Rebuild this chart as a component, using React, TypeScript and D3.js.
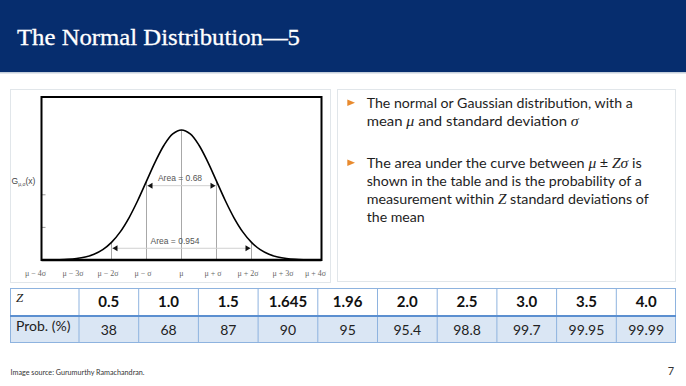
import React from "react";
import * as d3 from "d3";

// ---- Data ----
const curveX = [-4, -3.75, -3.5, -3.25, -3, -2.75, -2.5, -2.25, -2, -1.75, -1.5, -1.25, -1, -0.75, -0.5, -0.25, 0,
  0.25, 0.5, 0.75, 1, 1.25, 1.5, 1.75, 2, 2.25, 2.5, 2.75, 3, 3.25, 3.5, 3.75, 4];
const curveY = [0.0001, 0.0004, 0.0009, 0.002, 0.0044, 0.0091, 0.0175, 0.0317, 0.054, 0.0863, 0.1295, 0.1826, 0.242, 0.3011, 0.3521, 0.3867, 0.3989,
  0.3867, 0.3521, 0.3011, 0.242, 0.1826, 0.1295, 0.0863, 0.054, 0.0317, 0.0175, 0.0091, 0.0044, 0.002, 0.0009, 0.0004, 0.0001];
const sigmaTicks = [-4, -3, -2, -1, 0, 1, 2, 3, 4];
const sigmaLabels = ["μ − 4σ", "μ − 3σ", "μ − 2σ", "μ − σ", "μ", "μ + σ", "μ + 2σ", "μ + 3σ", "μ + 4σ"];
const yTicks = [0.1, 0.2];
const markerLines = [-2, -1, 0, 1, 2];
const areaSpans = [1, 2];
const areaLabels = ["Area = 0.68", "Area = 0.954"];
const areaLevels = [0.228, 0.036];
const zValues = ["0.5", "1.0", "1.5", "1.645", "1.96", "2.0", "2.5", "3.0", "3.5", "4.0"];
const probValues = ["38", "68", "87", "90", "95", "95.4", "98.8", "99.7", "99.95", "99.99"];

type Seg = [string, boolean];
const bullets: Seg[][][] = [
  [
    [["The normal or Gaussian distribution, with a", false]],
    [["mean ", false], ["μ", true], [" and standard deviation ", false], ["σ", true]],
  ],
  [
    [["The area under the curve between ", false], ["μ", true], [" ± ", false], ["Zσ", true], [" is", false]],
    [["shown in the table and is the probability of a", false]],
    [["measurement within ", false], ["Z", true], [" standard deviations of", false]],
    [["the mean", false]],
  ],
];
const bulletWidths = [[266, 212], [275, 275, 282, 58]];

export default function App() {
  const W = 686, H = 386;
  const x = d3.scaleLinear().domain([-4, 4]).range([41.5, 321.5]);
  const y = d3.scaleLinear().domain([0, 0.5]).range([260, 97]);
  const pdfAt = (k: number) => curveY[curveX.indexOf(k)];
  const line = d3.line<number>()
    .x((_, i) => x(curveX[i]))
    .y((d) => y(d))
    .curve(d3.curveCatmullRom);

  const col = d3.scaleBand<string>().domain(zValues).range([79, 676]);
  const tableLeft = 10, tableTop = 288, rowDiv = 316, tableBottom = 343;

  const arrow = (tipX: number, yy: number, dir: number) => {
    const w = 5, h = 3;
    return `M${tipX},${yy} L${tipX - dir * w},${yy - h} L${tipX - dir * w},${yy + h} Z`;
  };

  const bulletTops = [[107.7, 126], [167.7, 186, 204.3, 222.3]];

  return (
    <svg width={W} height={H} style={{ position: "absolute", left: 0, top: 0, background: "#fff" }}>
      {/* header */}
      <rect x={0} y={0} width={W} height={72} fill="#062d6e" />
      <rect x={0} y={72} width={W} height={1.5} fill="#c5cfdb" />
      <text x={17} y={45} fill="#fff" stroke="#fff" strokeWidth={0.3} fontFamily="Liberation Serif" fontSize={24}
        textLength={283} lengthAdjust="spacingAndGlyphs">
        The Normal Distribution—5
      </text>

      {/* boxes */}
      <rect x={10.5} y={89.5} width={320} height={193} fill="#fff" stroke="#e1e6ea" />
      <rect x={337.5} y={89.5} width={338} height={192} fill="#fff" stroke="#e1e6ea" />

      {/* chart */}
      {markerLines.map((k) => (
        <line key={"v" + k} x1={x(k)} x2={x(k)} y1={y(0)} y2={y(pdfAt(k))} stroke="#a8a8a8" strokeWidth={1} />
      ))}
      {areaSpans.map((k, i) => (
        <g key={"a" + k}>
          <line x1={x(-k)} x2={x(k)} y1={y(areaLevels[i])} y2={y(areaLevels[i])} stroke="#d0d0d0" strokeWidth={1} />
          <path d={arrow(x(-k) + 1, y(areaLevels[i]), -1)} fill="#111" />
          <path d={arrow(x(k) - 1, y(areaLevels[i]), 1)} fill="#111" />
          <text x={x(0) - (i === 0 ? 1.5 : 6.5)} y={y(areaLevels[i]) - 4.3} textAnchor="middle"
            fontFamily="Liberation Sans, Arial" fontSize={8.5} fill="#555">{areaLabels[i]}</text>
        </g>
      ))}
      <path d={line(curveY) || ""} fill="none" stroke="#000" strokeWidth={1.6} />
      {yTicks.map((t) => (
        <line key={"yt" + t} x1={x(-4)} x2={x(-4) + 4} y1={y(t)} y2={y(t)} stroke="#999" strokeWidth={1} />
      ))}
      <rect x={x(-4)} y={y(0.5)} width={x(4) - x(-4)} height={y(0) - y(0.5)} fill="none" stroke="#000" strokeWidth={2} />
      <line x1={x(-4)} x2={x(4)} y1={y(0)} y2={y(0)} stroke="#000" strokeWidth={2.5} />
      {sigmaTicks.map((k, i) => (
        <text key={"xl" + k} x={x(k) - (k === 0 ? 0 : k === -4 || k === 4 ? 6 : 3.5)} y={276} textAnchor="middle"
          fontFamily="Liberation Serif" fontSize={8} fill="#666">{sigmaLabels[i]}</text>
      ))}
      <text x={11.5} y={184} fontFamily="Liberation Sans, Arial" fontSize={8.5} fill="#444">
        G<tspan fontSize={5} dy={2}>μ,σ</tspan><tspan dy={-2}>(x)</tspan>
      </text>

      {/* bullets */}
      {bullets.map((b, bi) => (
        <g key={"b" + bi}>
          <path d={`M347.3,${bulletTops[bi][0] - 8.3} L355,${bulletTops[bi][0] - 5} L347.3,${bulletTops[bi][0] - 1.7} Z`} fill="#e88a2e" />
          {b.map((ln, li) => (
            <text key={li} x={366.7} y={bulletTops[bi][li]} fontFamily="Lato" fontSize={14} fill="#1e1e1e"
              textLength={bulletWidths[bi][li]} lengthAdjust="spacingAndGlyphs">
              {ln.map((s, si) => s[1]
                ? <tspan key={si} fontFamily="Liberation Serif" fontStyle="italic" fontSize={15}>{s[0]}</tspan>
                : <tspan key={si}>{s[0]}</tspan>)}
            </text>
          ))}
        </g>
      ))}

      {/* table */}
      <rect x={tableLeft} y={rowDiv} width={676 - tableLeft} height={tableBottom - rowDiv} fill="#dae6f4" />
      <rect x={tableLeft + 0.5} y={tableTop + 0.5} width={676 - tableLeft - 1} height={tableBottom - tableTop - 1} fill="none" stroke="#8eb3df" strokeWidth={1} />
      {zValues.map((z) => (
        <line key={"cl" + z} x1={col(z)!} x2={col(z)!} y1={tableTop} y2={tableBottom} stroke="#8eb3df" strokeWidth={1} />
      ))}
      <line x1={tableLeft} x2={676} y1={rowDiv} y2={rowDiv} stroke="#5b8fd0" strokeWidth={2} />
      <text x={16} y={302} fontFamily="Liberation Serif" fontStyle="italic" fontSize={13} fill="#222">Z</text>
      <text x={16} y={331} fontFamily="Lato" fontSize={14} fill="#222">Prob. (%)</text>
      {zValues.map((z, i) => (
        <g key={"tv" + z}>
          <text x={col(z)! + col.bandwidth() / 2} y={307} textAnchor="middle" fontFamily="Lato" fontWeight="bold" fontSize={15} fill="#111">{z}</text>
          <text x={col(z)! + col.bandwidth() / 2} y={335} textAnchor="middle" fontFamily="Lato" fontSize={14} fill="#222">{probValues[i]}</text>
        </g>
      ))}

      {/* footer */}
      <text x={10.5} y={375} fontFamily="Lato" fontSize={7} fill="#333" textLength={134} lengthAdjust="spacingAndGlyphs">Image source: Gurumurthy Ramachandran.</text>
      <text x={671} y={375} textAnchor="middle" fontFamily="Lato" fontSize={11} fill="#333">7</text>
    </svg>
  );
}
